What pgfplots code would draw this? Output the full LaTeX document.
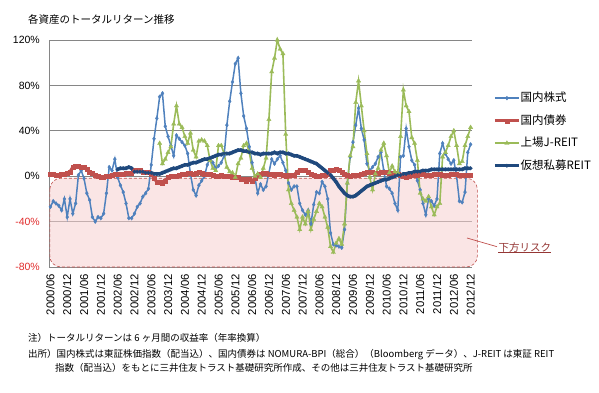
\documentclass[border=0pt]{standalone}
\usepackage{fontspec}
\setmainfont{Liberation Sans}
\newfontfamily\jp{Noto Sans CJK JP}
\usepackage{pgfplots}
\pgfplotsset{compat=1.18}
\usepackage{pgfplotstable}
\definecolor{cstock}{HTML}{4F81BD}
\definecolor{cbond}{HTML}{C0504D}
\definecolor{cjreit}{HTML}{9BBB59}
\definecolor{cpriv}{HTML}{1F497D}
\definecolor{gridgray}{HTML}{868686}
\definecolor{pinkfill}{RGB}{246,208,208}
\definecolor{boxred}{HTML}{C0504D}
\definecolor{labelred}{RGB}{149,55,53}
\definecolor{tickred}{RGB}{225,45,45}

\pgfplotstableread[row sep=\\]{m v\\
0 -27\\1 -22\\2 -24\\3 -26\\4 -30\\5 -20\\6 -36\\7 -20\\8 -33\\9 -24\\
10 1\\11 5\\12 -2\\13 -15\\14 -21\\15 -36\\16 -40\\17 -36\\18 -37\\19 -33\\
20 -15\\21 8\\22 5\\23 15\\24 -1\\25 -8\\26 -14\\27 -24\\28 -37\\29 -37\\
30 -33\\31 -27\\32 -24\\33 -18\\34 -15\\35 -11\\36 10\\37 33\\38 51\\39 70\\
40 73\\41 44\\42 35\\43 27\\44 18\\45 36\\46 33\\47 30\\48 27\\49 20\\
50 2\\51 -12\\52 -17\\53 -8\\54 -4\\55 0\\56 10\\57 16\\58 12\\59 7\\
60 9\\61 12\\62 18\\63 45\\64 66\\65 83\\66 99\\67 104\\68 73\\69 53\\
70 42\\71 26\\72 12\\73 -1\\74 -15\\75 -7\\76 -12\\77 -9\\78 3\\79 15\\
80 11\\81 15\\82 18\\83 12\\84 5\\85 -6\\86 -12\\87 -9\\88 -9\\89 -24\\
90 -30\\91 -34\\92 -30\\93 -42\\94 -25\\95 -14\\96 -15\\97 -5\\98 -9\\99 -20\\
100 -50\\101 -60\\102 -61\\103 -62\\104 -63\\105 -47\\106 -6\\107 17\\108 30\\109 45\\
110 60\\111 42\\112 32\\113 11\\114 5\\115 8\\116 11\\117 17\\118 21\\119 5\\
120 -9\\121 -11\\122 -15\\123 -24\\124 -30\\125 17\\126 18\\127 42\\128 26\\129 14\\
130 10\\131 -4\\132 -12\\133 -24\\134 -34\\135 -20\\136 -22\\137 -26\\138 -20\\139 20\\
140 29\\141 20\\142 15\\143 11\\144 14\\145 0\\146 -22\\147 -23\\148 -14\\149 21\\
150 28\\
}\stock

\pgfplotstableread[row sep=\\]{m v\\
0 2\\1 2\\2 1\\3 1\\4 2\\5 2\\6 3\\7 4\\8 8\\9 9\\
10 9\\11 8\\12 8\\13 6\\14 4\\15 3\\16 1\\17 0\\18 -1\\19 -1\\
20 0\\21 0\\22 1\\23 2\\24 2\\25 2\\26 2\\27 3\\28 3\\29 3\\
30 5\\31 5\\32 5\\33 4\\34 4\\35 4\\36 2\\37 -2\\38 -5\\39 -5\\
40 -6\\41 -4\\42 -1\\43 0\\44 0\\45 0\\46 1\\47 2\\48 2\\49 3\\
50 3\\51 2\\52 3\\53 4\\54 3\\55 2\\56 2\\57 2\\58 1\\59 0\\
60 0\\61 1\\62 0\\63 0\\64 0\\65 -1\\66 -1\\67 -1\\68 -3\\69 -3\\
70 -4\\71 -3\\72 -4\\73 -2\\74 1\\75 2\\76 3\\77 3\\78 2\\79 2\\
80 1\\81 2\\82 2\\83 1\\84 0\\85 1\\86 1\\87 1\\88 4\\89 5\\
90 5\\91 5\\92 4\\93 2\\94 1\\95 0\\96 0\\97 1\\98 1\\99 2\\
100 5\\101 5\\102 6\\103 5\\104 4\\105 2\\106 1\\107 0\\108 1\\109 1\\
110 1\\111 2\\112 3\\113 4\\114 4\\115 4\\116 3\\117 3\\118 4\\119 4\\
120 4\\121 3\\122 3\\123 3\\124 2\\125 1\\126 0\\127 -1\\128 0\\129 1\\
130 1\\131 1\\132 2\\133 2\\134 1\\135 1\\136 1\\137 2\\138 2\\139 2\\
140 1\\141 1\\142 1\\143 2\\144 2\\145 2\\146 1\\147 1\\148 1\\149 1\\
150 1\\
}\bond

\pgfplotstableread[row sep=\\]{m v\\
39 29\\40 11\\41 15\\42 21\\43 26\\44 46\\45 62\\46 46\\47 43\\48 35\\49 29\\
50 38\\51 23\\52 17\\53 31\\54 32\\55 31\\56 27\\57 14\\58 7\\59 5\\
60 27\\61 27\\62 20\\63 8\\64 4\\65 3\\66 -1\\67 11\\68 16\\69 27\\
70 29\\71 21\\72 7\\73 0\\74 2\\75 -1\\76 7\\77 16\\78 50\\79 92\\
80 104\\81 120\\82 112\\83 108\\84 37\\85 -12\\86 -24\\87 -30\\88 -36\\89 -47\\
90 -36\\91 -42\\92 -31\\93 -47\\94 -38\\95 -31\\96 -24\\97 -27\\98 -36\\99 -45\\
100 -62\\101 -67\\102 -59\\103 -55\\104 -60\\105 -42\\106 -6\\107 18\\108 26\\109 65\\
110 84\\111 62\\112 40\\113 20\\114 -1\\115 -12\\116 2\\117 7\\118 23\\119 29\\
120 18\\121 3\\122 9\\123 4\\124 3\\125 35\\126 76\\127 62\\128 57\\129 34\\
130 29\\131 14\\132 -15\\133 -20\\134 -22\\135 -18\\136 -27\\137 -34\\138 -27\\139 -24\\
140 17\\141 21\\142 27\\143 35\\144 40\\145 27\\146 11\\147 13\\148 27\\149 35\\
150 43\\
}\jreit

\pgfplotstableread[row sep=\\]{m v\\
24 6\\25 7\\26 7\\27 7\\28 8\\29 7\\
30 4\\31 4\\32 4\\33 4\\34 3\\35 3\\36 3\\37 2\\38 2\\39 2\\
40 3\\41 4\\42 5\\43 6\\44 7\\45 7\\46 8\\47 9\\48 10\\49 10\\
50 11\\51 12\\52 12\\53 13\\54 14\\55 15\\56 15\\57 16\\58 17\\59 18\\
60 19\\61 19\\62 20\\63 20\\64 20\\65 21\\66 22\\67 23\\68 23\\69 22\\
70 22\\71 21\\72 21\\73 20\\74 20\\75 19\\76 20\\77 20\\78 20\\79 20\\
80 21\\81 20\\82 21\\83 21\\84 20\\85 20\\86 19\\87 18\\88 18\\89 17\\
90 16\\91 15\\92 14\\93 13\\94 12\\95 11\\96 9\\97 7\\98 5\\99 3\\
100 1\\101 -2\\102 -5\\103 -9\\104 -12\\105 -15\\106 -17\\107 -18\\108 -18\\109 -17\\
110 -15\\111 -13\\112 -11\\113 -9\\114 -8\\115 -7\\116 -6\\117 -5\\118 -4\\119 -3\\
120 -3\\121 -2\\122 -1\\123 0\\124 1\\125 1\\126 2\\127 2\\128 3\\129 3\\
130 4\\131 4\\132 4\\133 5\\134 5\\135 5\\136 6\\137 6\\138 6\\139 6\\
140 6\\141 6\\142 6\\143 6\\144 6\\145 6\\146 6\\147 6\\148 7\\149 7\\
150 7\\
}\priv

\begin{document}
\begin{tikzpicture}[x=1pt,y=1pt]
\path[use as bounding box] (0,0) rectangle (599,392);
\begin{axis}[
  at={(49pt,125pt)}, anchor=south west,
  scale only axis, width=423pt, height=227pt,
  xmin=-0.5, xmax=150.5, ymin=-80, ymax=120,
  clip=false,
  axis lines=left,
  axis line style={draw=gridgray, line width=0.8pt, -},
  major tick length=0pt,
  ytick={-80,-40,0,40,80,120},
  yticklabels={{\color{tickred}-80\%},{\color{tickred}-40\%},0\%,40\%,80\%,120\%},
  yticklabel style={font=\fontsize{10.5}{10.5}\selectfont, inner sep=0pt, anchor=east},
  yticklabel shift=9pt,
  xtick={0,6,...,150},
  xticklabels={2000/06,2000/12,2001/06,2001/12,2002/06,2002/12,2003/06,2003/12,2004/06,2004/12,2005/06,2005/12,2006/06,2006/12,2007/06,2007/12,2008/06,2008/12,2009/06,2009/12,2010/06,2010/12,2011/06,2011/12,2012/06,2012/12},
  xticklabel style={font=\fontsize{11.3}{11.3}\selectfont, rotate=90, anchor=east, inner sep=0pt},
  xticklabel shift=7pt,
  ymajorgrids,
  grid style={draw=gridgray, line width=0.8pt},
  legend style={at={(axis description cs:1.05,0.595)}, anchor=west, draw=none, fill=none,
    inner sep=0pt, outer sep=0pt, row sep=11.5pt,
    font=\jp\fontsize{11.5}{12}\selectfont,
    nodes={inner sep=0pt, text height=9pt, text depth=2pt}},
  legend cell align=left,
  legend image code/.code={\draw[mark repeat=2,mark phase=2,#1] plot coordinates {(0pt,0pt) (12pt,0pt) (24pt,0pt)};},
  /tikz/every even column/.append style={column sep=3pt},
]
\draw[densely dashed, boxred, line width=0.6pt, fill=pinkfill, fill opacity=0.55, rounded corners=11pt]
  (axis cs:-0.2,-1.8) rectangle (axis cs:152.4,-80);
\addplot[cstock, line width=1.5pt, mark=diamond*, mark size=2pt, mark options={line width=0.3pt}] table[x=m,y=v] {\stock};
\addlegendentry{国内株式}
\addplot[cbond, line width=3pt, mark=square*, mark size=2pt, mark options={line width=0.3pt}] table[x=m,y=v] {\bond};
\addlegendentry{国内債券}
\addplot[cjreit, line width=1.6pt, mark=triangle*, mark size=2.5pt, mark options={line width=0.3pt}] table[x=m,y=v] {\jreit};
\addlegendentry{上場J-REIT}
\addplot[cpriv, line width=3.5pt, mark=*, mark size=1.8pt, mark options={line width=0.3pt}] table[x=m,y=v] {\priv};
\addlegendentry{仮想私募REIT}
\end{axis}
\node[anchor=west, inner sep=0pt, font=\jp\fontsize{10.5}{12}\selectfont] at (28,373) {各資産のトータルリターン推移};
\draw[boxred, line width=0.7pt] (467,154) -- (497,145.3);
\node[anchor=west, inner sep=0pt, text=labelred, font=\jp\fontsize{10.5}{12}\selectfont] at (498.5,144.5) {下方リスク};
\draw[labelred, line width=1.1pt] (498,139.3) -- (551,139.3);
\node[anchor=west, inner sep=0pt, font=\jp\fontsize{9.5}{11}\selectfont] at (28,54.5) {注）トータルリターンは 6 ヶ月間の収益率（年率換算）};
\node[anchor=west, inner sep=0pt, font=\jp\fontsize{9.5}{11}\selectfont] at (28,37) {出所）国内株式は東証株価指数（配当込）、国内債券は NOMURA-BPI（総合）（Bloomberg データ）、J-REIT は東証 REIT};
\node[anchor=west, inner sep=0pt, font=\jp\fontsize{9.5}{11}\selectfont] at (55,23.7) {指数（配当込）をもとに三井住友トラスト基礎研究所作成、その他は三井住友トラスト基礎研究所};
\end{tikzpicture}
\end{document}
